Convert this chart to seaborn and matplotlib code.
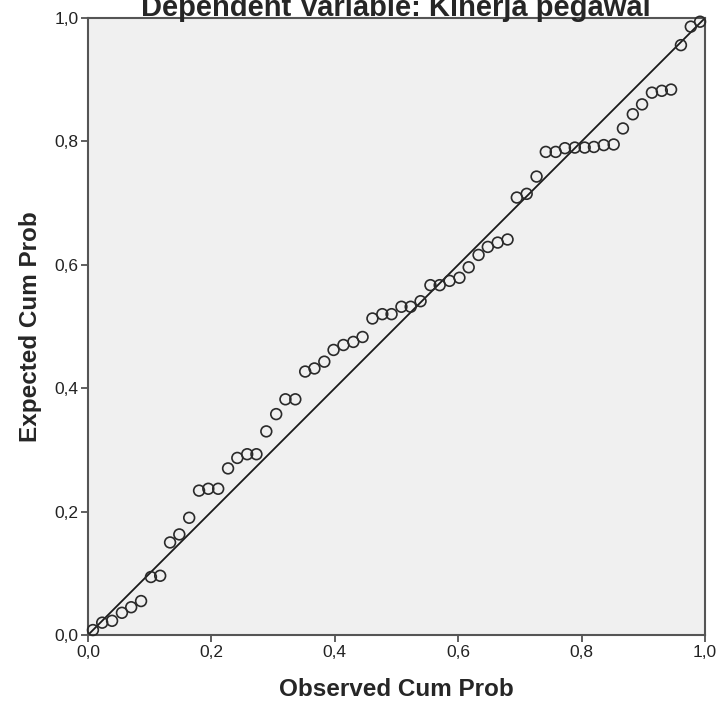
import numpy as np
import pandas as pd
import matplotlib
matplotlib.use("Agg")
import matplotlib.pyplot as plt
from matplotlib.ticker import FuncFormatter
import seaborn as sns

# Observed vs expected cumulative probabilities
observed = [0.008, 0.023, 0.039, 0.055, 0.070, 0.086, 0.102, 0.117, 0.133, 0.148,
            0.164, 0.180, 0.195, 0.211, 0.227, 0.242, 0.258, 0.273, 0.289, 0.305,
            0.320, 0.336, 0.352, 0.367, 0.383, 0.398, 0.414, 0.430, 0.445, 0.461,
            0.477, 0.492, 0.508, 0.523, 0.539, 0.555, 0.570, 0.586, 0.602, 0.617,
            0.633, 0.648, 0.664, 0.680, 0.695, 0.711, 0.727, 0.742, 0.758, 0.773,
            0.789, 0.805, 0.820, 0.836, 0.852, 0.867, 0.883, 0.898, 0.914, 0.930,
            0.945, 0.961, 0.977, 0.992]
expected = [0.008, 0.020, 0.023, 0.036, 0.045, 0.055, 0.094, 0.096, 0.150, 0.163,
            0.190, 0.234, 0.237, 0.237, 0.270, 0.287, 0.293, 0.293, 0.330, 0.358,
            0.382, 0.382, 0.427, 0.432, 0.443, 0.462, 0.470, 0.475, 0.483, 0.513,
            0.520, 0.520, 0.532, 0.532, 0.541, 0.567, 0.567, 0.574, 0.579, 0.596,
            0.616, 0.629, 0.636, 0.641, 0.709, 0.715, 0.743, 0.783, 0.783, 0.789,
            0.790, 0.790, 0.791, 0.794, 0.795, 0.821, 0.844, 0.860, 0.879, 0.882,
            0.884, 0.956, 0.986, 0.994]
ref_line = [0.0, 1.0]
ticks = [0.0, 0.2, 0.4, 0.6, 0.8, 1.0]

df = pd.DataFrame({"Observed": observed, "Expected": expected})

sns.set_style("ticks")
plt.rcParams["font.family"] = ["Liberation Sans", "DejaVu Sans"]

fig = plt.figure(figsize=(7.21, 7.09), dpi=100)
ax = fig.add_axes([88 / 721, 74 / 709, 617 / 721, 617 / 709])
ax.set_facecolor("#f0f0f0")

# diagonal reference line
ax.plot(ref_line, ref_line, color="#1a1a1a", lw=1.3, zorder=2)

sns.scatterplot(data=df, x="Observed", y="Expected", ax=ax, marker="o", s=60,
                facecolors="none", edgecolor="#2a2a2a", linewidth=1.2, zorder=3,
                clip_on=False)

ax.set_xlim(0, 1)
ax.set_ylim(0, 1)
ax.set_xticks(ticks)
ax.set_yticks(ticks)
fmt = FuncFormatter(lambda v, p: f"{v:.1f}".replace(".", ","))
ax.xaxis.set_major_formatter(fmt)
ax.yaxis.set_major_formatter(fmt)
ax.tick_params(direction="out", length=5, width=1.2, color="#444444",
               labelsize=12.5, labelcolor="#222222", pad=2)

for sp in ax.spines.values():
    sp.set_visible(True)
    sp.set_color("#555555")
    sp.set_linewidth(1.5)

ax.set_xlabel("Observed Cum Prob", fontsize=17.5, fontweight="bold", va="center")
ax.set_ylabel("Expected Cum Prob", fontsize=17.5, fontweight="bold", va="center")
ax.xaxis.set_label_coords(0.5, -0.088)
ax.yaxis.set_label_coords(-0.093, 0.5)

fig.text(396 / 721, 1 - 16 / 709, "Dependent Variable: Kinerja pegawai",
         ha="center", va="baseline", fontsize=21, fontweight="bold")

fig.savefig("out.png", dpi=100)
